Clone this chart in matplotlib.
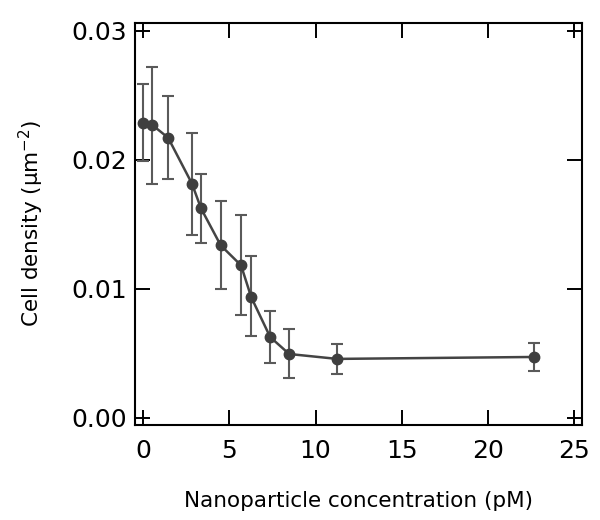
import numpy as np
import matplotlib
matplotlib.use("Agg")
import matplotlib.pyplot as plt
from matplotlib.ticker import FormatStrFormatter

# values
conc = [0.0, 0.52, 1.45, 2.83, 3.36, 4.5, 5.68, 6.27, 7.37, 8.47, 11.25, 22.68]
density = [0.02286, 0.0227, 0.0217, 0.01815, 0.01622, 0.01336, 0.01181, 0.00934, 0.00625, 0.00494, 0.00456, 0.00471]
err_top = [0.02587, 0.0272, 0.0249, 0.0221, 0.0189, 0.01676, 0.01568, 0.01251, 0.00826, 0.00687, 0.00571, 0.00579]
err_bot = [0.0199, 0.01815, 0.01853, 0.01413, 0.01351, 0.00996, 0.00795, 0.00633, 0.00425, 0.00309, 0.0034, 0.00363]

xticks = [0, 5, 10, 15, 20, 25]
yticks = [0.00, 0.01, 0.02, 0.03]

conc = np.array(conc)
density = np.array(density)
yerr = np.vstack([density - np.array(err_bot), np.array(err_top) - density])

fig = plt.figure(figsize=(6, 5.2), dpi=100)
ax = fig.add_axes([0.225, 0.183, 0.745, 0.773])

ax.errorbar(conc, density, yerr=yerr, fmt='none', ecolor='#5a5a5a',
            elinewidth=1.5, capsize=4, capthick=1.5, zorder=2)
ax.plot(conc, density, '-', color='#444444', lw=1.8, zorder=3)
ax.plot(conc, density, 'o', color='#3f3f3f', ms=7.5, zorder=4)

ax.set_xlim(-0.47, 25.45)
ax.set_ylim(-0.00055, 0.0306)
ax.set_xticks(xticks)
ax.set_yticks(yticks)
ax.yaxis.set_major_formatter(FormatStrFormatter('%.2f'))

ax.tick_params(direction='in', length=11, width=1.4, top=True, right=True,
               labelsize=18, colors='black')
ax.tick_params(axis='x', pad=10)
ax.tick_params(axis='y', pad=6)
for s in ax.spines.values():
    s.set_linewidth(1.5)

ax.set_xlabel('Nanoparticle concentration (pM)', fontsize=15.5, labelpad=20)
ax.set_ylabel('Cell density (\u03bcm$^{-2}$)', fontsize=15.5, labelpad=18)

fig.savefig('out.png', dpi=100)
